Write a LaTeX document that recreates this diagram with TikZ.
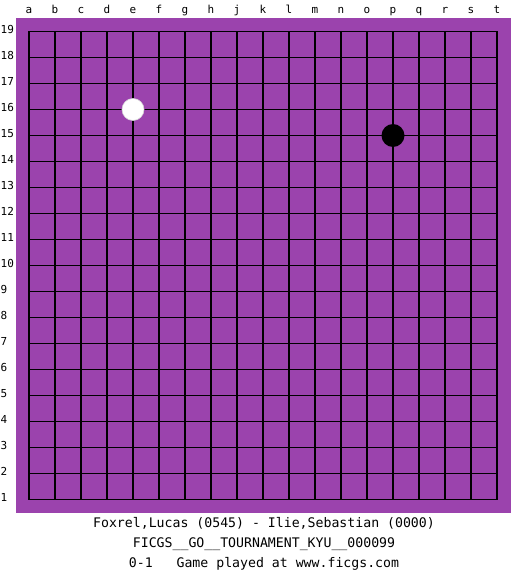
\documentclass[tikz,border=0pt]{standalone}
\usepackage{fontspec}
\usepackage{tikz}
\usetikzlibrary{positioning}
\newfontfamily\boardfont{DejaVu Sans Mono}
\definecolor{boardpurple}{RGB}{155,67,173}
\tikzset{
  gridline/.style={line width=1.2pt, black},
  coordlabel/.style={font=\boardfont\fontsize{11}{11}\selectfont, inner sep=0pt},
  infoline/.style={font=\boardfont\fontsize{13.2}{14}\selectfont, inner sep=0pt},
  whitestone/.style={circle, fill=white, draw=white!85!black, line width=0.6pt, minimum size=22pt, inner sep=0pt},
  blackstone/.style={circle, fill=black, minimum size=23pt, inner sep=0pt}
}
\begin{document}
\begin{tikzpicture}[x=1pt, y=-1pt]
\useasboundingbox (0,0) rectangle (525,575);
% board
\fill[boardpurple] (16,18) rectangle (511,513);
\foreach \i in {0,...,18} {
  \draw[gridline] (29+26*\i,31.5) -- (29+26*\i,499.5);
  \draw[gridline] (29,31.5+26*\i) -- (497,31.5+26*\i);
}
% coordinates
\foreach \c [count=\i from 0] in {a,b,c,d,e,f,g,h,j,k,l,m,n,o,p,q,r,s,t}
  \node[coordlabel, anchor=base] (col-\c) at (29+26*\i,14) {\c};
\foreach \r in {1,...,19}
  \node[coordlabel, anchor=base west] (row-\r) at (0.5,33.5+26*19-26*\r) {\r};
% stones
\node[whitestone] (e16) at (133,109.5) {};
\node[blackstone] (p15) at (393,135.5) {};
% game info
\node[infoline] (players) at (264,523) {Foxrel,Lucas (0545) - Ilie,Sebastian (0000)};
\node[infoline] (event) at (264,544) {FICGS\_\_GO\_\_TOURNAMENT\_KYU\_\_000099};
\node[infoline] (result) at (264,564) {0-1\ \ \ Game played at www.ficgs.com};
\end{tikzpicture}
\end{document}
